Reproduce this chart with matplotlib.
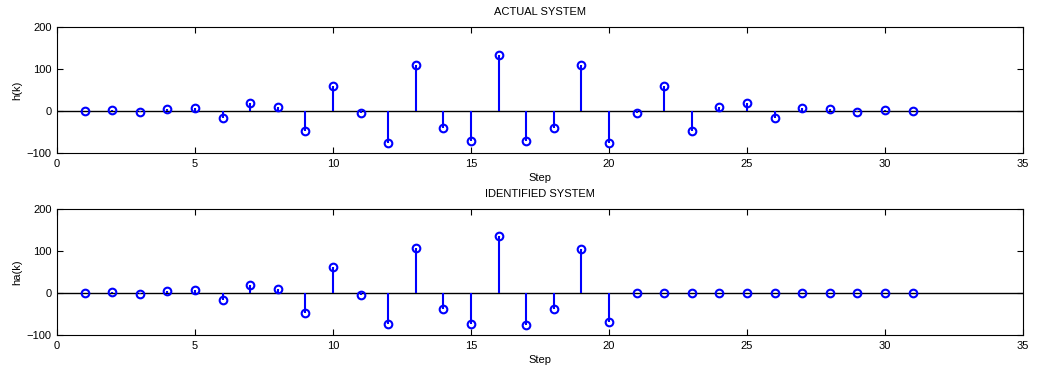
import matplotlib.pyplot as plt
import numpy as np

plt.rcParams['font.family'] = ['Liberation Sans', 'DejaVu Sans']
plt.rcParams['font.size'] = 8

steps = np.arange(1, 32)
h = [0, 2, -2, 4, 6, -17, 20, 9, -48, 59, -5, -77, 109, -40, -72, 133,
     -72, -40, 109, -77, -5, 59, -48, 9, 20, -17, 7, 5, -2, 3, 0]
ha = [0, 2, -2, 4, 6, -17, 20, 9, -48, 61, -5, -74, 106, -39, -74, 135,
      -76, -37, 104, -69, 0, 0, 0, 0, 0, 0, 0, 0, 0, 0, 0]

fig = plt.figure(figsize=(10.37, 3.7), dpi=100)
ax1 = fig.add_axes([0.055, 0.5865, 0.9315, 0.3405])
ax2 = fig.add_axes([0.055, 0.0946, 0.9315, 0.3405])


def draw(ax, y, title, ylabel):
    ax.axhline(0, color='black', lw=1, zorder=1)
    ax.vlines(steps, 0, y, color='#0000ff', lw=1.5, zorder=2)
    ax.plot(steps, y, 'o', mfc='none', mec='#0000ff', mew=1.5, ms=5.5, zorder=3)
    ax.set_xlim(0, 35)
    ax.set_ylim(-100, 200)
    ax.set_xticks(np.arange(0, 36, 5))
    ax.set_yticks([-100, 0, 100, 200])
    ax.tick_params(direction='in', top=True, right=True, length=4, pad=4)
    ax.set_title(title, fontsize=8, pad=9)
    ax.set_xlabel('Step', labelpad=3)
    ax.set_ylabel(ylabel, labelpad=3)


draw(ax1, h, 'ACTUAL SYSTEM', 'h(k)')
draw(ax2, ha, 'IDENTIFIED SYSTEM', 'ha(k)')

fig.savefig('out.png', dpi=100)
